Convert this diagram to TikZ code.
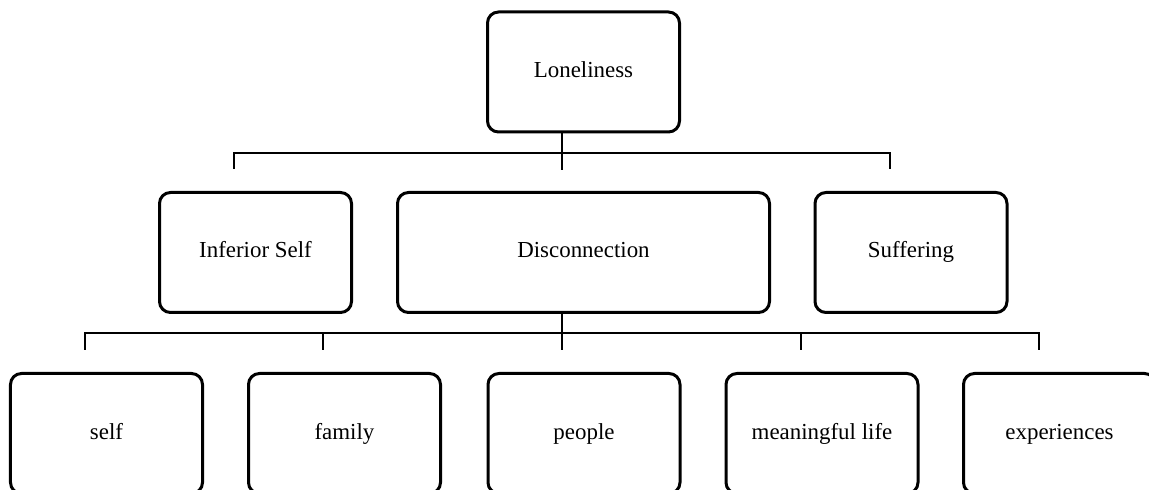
\documentclass[tikz,border=0pt]{standalone}
\usepackage{fontspec}
\setmainfont{Liberation Serif}
\begin{document}
\begin{tikzpicture}[x=1bp,y=-1bp,
  box/.style={draw=black, line width=3bp, rounded corners=11bp, fill=white,
    minimum width=192bp, minimum height=120bp, inner sep=0pt,
    text height=16bp, text depth=5bp,
    font=\fontsize{23}{28}\selectfont},
  link/.style={draw=black, line width=1.8bp}]
\useasboundingbox (0,0) rectangle (1149,490);
\clip (0,0) rectangle (1149,490);

% top level
\node[box] (lon) at (583.5,72) {Loneliness};

% second level
\node[box] (inf) at (255.5,252.5) {Inferior Self};
\node[box, minimum width=372bp] (dis) at (583.5,252.5) {Disconnection};
\node[box] (suf) at (911,252.5) {Suffering};

% third level
\node[box] (sel) at (106.5,433.5) {self};
\node[box] (fam) at (344.5,433.5) {family};
\node[box] (peo) at (584,433.5) {people};
\node[box] (mea) at (822,433.5) {meaningful life};
\node[box] (exp) at (1059.5,433.5) {experiences};

% branch stubs
\coordinate (t1) at (562,170);
\coordinate (d1) at (234,169);
\coordinate (d2) at (890,169);
\coordinate (t2) at (562,350);
\coordinate (e1) at (85,350);
\coordinate (e2) at (323,350);
\coordinate (e3) at (801,350);
\coordinate (e4) at (1039,350);

% Loneliness -> second level
\draw[link] (lon.south -| t1) -- (t1);
\draw[link] (d1) -- (234,153) -- (890,153) -- (d2);

% Disconnection -> third level
\draw[link] (dis.south -| t2) -- (t2);
\draw[link] (e1) -- (85,333) -- (1039,333) -- (e4);
\draw[link] (323,333) -- (e2);
\draw[link] (801,333) -- (e3);
\end{tikzpicture}
\end{document}
